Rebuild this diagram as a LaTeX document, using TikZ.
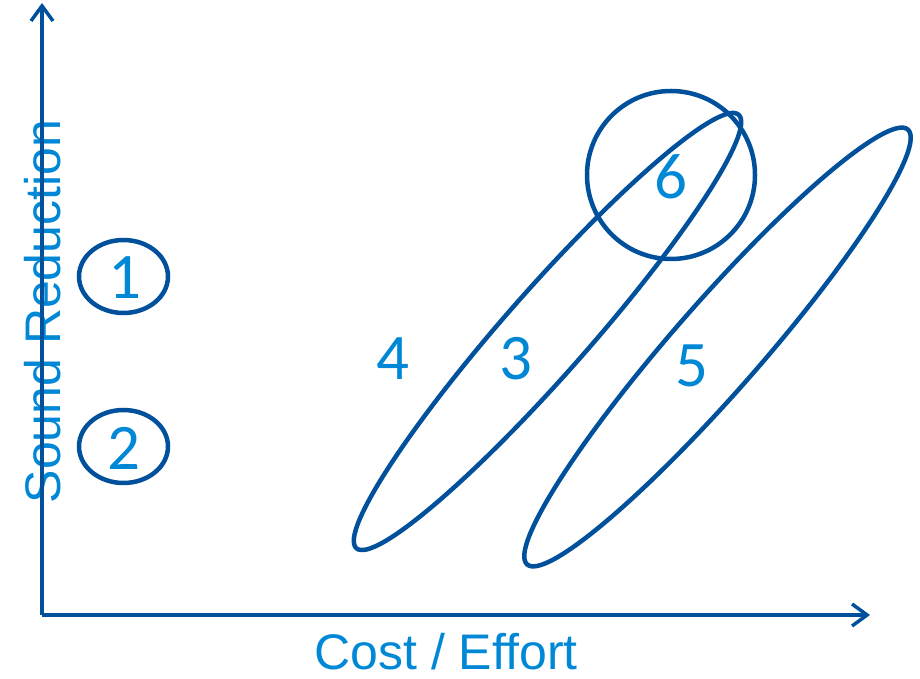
\documentclass[tikz,border=0pt]{standalone}
\usepackage{fontspec}
\setmainfont{Liberation Sans}
\newfontfamily\digitfont{Carlito}
\usepackage{tikz}
\usetikzlibrary{arrows.meta}
\definecolor{lineblue}{RGB}{0, 80, 155}
\definecolor{textblue}{RGB}{0, 136, 214}

\begin{document}
\begin{tikzpicture}[x=1pt, y=1pt,
    axis/.style={line width=3.5pt, color=lineblue, -{Straight Barb[length=15pt, width=22pt]}},
    blob/.style={line width=4.5pt, color=lineblue},
    num/.style={inner sep=0pt, color=textblue, font=\digitfont\fontsize{65}{70}\selectfont},
    axislabel/.style={inner sep=0pt, color=textblue, font=\fontsize{50}{58}\selectfont}]
    \useasboundingbox (0, 0) rectangle (920, 679);

    \coordinate (origin) at (42, 64);
    \coordinate (ytip) at (42, 676);
    \coordinate (xtip) at (870, 64);

    \draw[blob] (123.5, 402.5) ellipse [x radius=44.5, y radius=36.5];
    \draw[blob] (123.5, 232.5) ellipse [x radius=44.5, y radius=36.5];
    \draw[blob, rotate around={48.6:(547.5, 347.5)}] (547.5, 347.5) ellipse [x radius=289, y radius=42];
    \draw[blob, rotate around={48.8:(717.5, 332)}] (717.5, 332) ellipse [x radius=289, y radius=44];
    \draw[blob] (671, 504) circle [radius=84];

    \node[num] (one) at (125, 401) {1};
    \node[num] (two) at (124, 231) {2};
    \node[num] (three) at (516, 320.5) {3};
    \node[num] (four) at (393, 320) {4};
    \node[num] (five) at (692, 313) {5};
    \node[num] (six) at (671, 502) {6};

    \node[axislabel, rotate=90, anchor=base] (ylabel) at (60, 367.5) {Sound Reduction};
    \node[axislabel, anchor=base] (xlabel) at (446, 9) {Cost / Effort};

    \draw[axis] (origin) -- (ytip);
    \draw[axis] (origin) -- (xtip);
\end{tikzpicture}
\end{document}
